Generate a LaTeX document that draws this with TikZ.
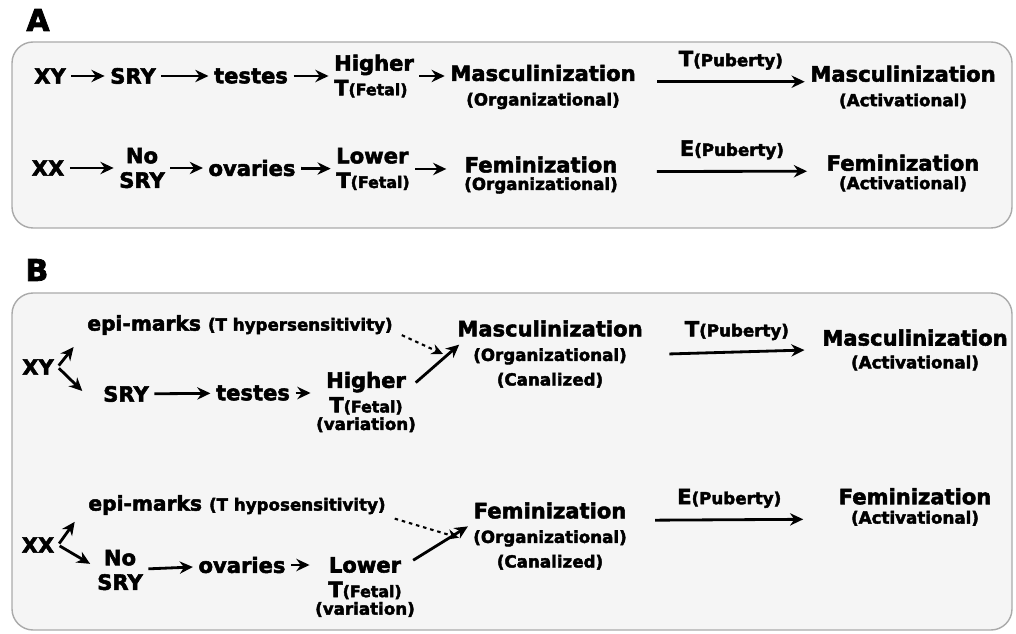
\documentclass[tikz,border=0pt]{standalone}
\usepackage{fontspec}
\setmainfont{DejaVu Sans}[BoldFeatures={FakeBold=2.5}]
\usepackage{tikz}
\usetikzlibrary{arrows,arrows.meta,shapes,positioning}
\usepackage{xcolor}
\definecolor{panelgray}{RGB}{245,245,245}
\definecolor{panelline}{RGB}{170,170,170}
\tikzstyle{arrow} = [line width=1.6pt,->,>={Stealth[length=7.5pt,width=7pt]},shorten <=1pt,shorten >=1pt]
\tikzstyle{dotarrow} = [line width=1.2pt,->,>={Stealth[length=6.5pt,width=6pt]},dash pattern=on 2pt off 2.2pt]
\tikzstyle{panel} = [draw=panelline, fill=panelgray, rounded corners=12pt, line width=0.8pt]
\newcommand{\mainf}{\fontsize{12}{14}\selectfont\bfseries}
\newcommand{\subf}{\fontsize{9.5}{11}\selectfont}
\newcommand{\fetf}{\fontsize{9}{10}\selectfont}

\begin{document}
\begin{tikzpicture}[x=0.02cm, y=-0.02cm, every node/.style={inner sep=2pt, font=\mainf}]
\useasboundingbox (0,0) rectangle (1016,634);

% Panels
\node[font=\fontsize{17}{17}\selectfont\bfseries] (labA) at (38,20) {A};
\draw[panel] (12,42) rectangle (1012,228);
\node[font=\fontsize{17}{17}\selectfont\bfseries] (labB) at (37,270) {B};
\draw[panel] (12,293) rectangle (1012,630);

% A: XY row
\node (xyA) at (50,76) {XY};
\node (sryA) at (133,76) {SRY};
\node (testesA) at (251,76) {testes};
\node[align=left] (hiA) at (374,76) {Higher\\T{\fetf(Fetal)}};
\node[align=center] (mascOA) at (543,87) {Masculinization\\{\subf(Organizational)}};
\node[align=center] (mascAA) at (903,87) {Masculinization\\{\subf(Activational)}};
\draw[arrow] (xyA) -- (sryA);
\draw[arrow] (sryA) -- (testesA);
\draw[arrow] (testesA) -- (hiA);
\draw[arrow] (hiA) -- (hiA -| mascOA.west);
\draw[arrow] ([xshift=9pt,yshift=3pt]mascOA.east) -- ([yshift=3pt]mascAA.west)
  node[midway, above=4pt] (tpA) {T{\subf(Puberty)}};

% A: XX row
\node (xxA) at (48,168) {XX};
\node[align=center] (nosryA) at (142,168) {No\\SRY};
\node (ovA) at (252,168) {ovaries};
\node[align=left] (loA) at (373,169) {Lower\\T{\fetf(Fetal)}};
\node[align=center] (femOA) at (541,175) {Feminization\\[-4pt]{\subf(Organizational)}};
\node[align=center] (femAA) at (903,173) {Feminization\\[-3.5pt]{\subf(Activational)}};
\draw[arrow] (xxA) -- (nosryA);
\draw[arrow] (nosryA) -- (ovA);
\draw[arrow] (ovA) -- (loA);
\draw[arrow, shorten >=8pt] (loA) -- (loA -| femOA.west);
\draw[arrow] ([xshift=19pt,yshift=2pt]femOA.east) -- ([xshift=-8pt,yshift=1pt]femAA.west)
  node[midway, above=4pt] (epA) {E{\subf(Puberty)}};

% B: XY branch
\node (xyB) at (38,367) {XY};
\node[font=\fontsize{11.5}{14}\selectfont\bfseries] (epiB) at (240,325) {epi-marks {\subf(T hypersensitivity)}};
\node (sryB) at (126,394) {SRY};
\node (testesB) at (253,393) {testes};
\node[align=center] (hiB) at (366,402) {Higher\\T{\fetf(Fetal)}\\[-4pt]{\subf(variation)}};
\node[align=center] (mascOB) at (550,354) {Masculinization\\{\subf(Organizational)}\\{\subf(Canalized)}};
\node[align=center] (mascAB) at (915,350) {Masculinization\\[-1pt]{\subf(Activational)}};
\draw[arrow] (xyB.east) -- ([xshift=-5pt,yshift=-4pt]epiB.south west);
\draw[arrow] (xyB.east) -- ([xshift=-9pt,yshift=1pt]sryB.west);
\draw[arrow] (sryB) -- (testesB);
\draw[arrow] (testesB) -- (testesB -| hiB.west);
\draw[dotarrow] ([xshift=3pt,yshift=2pt]epiB.south east) -- ([xshift=-6pt]mascOB.west);
\draw[arrow] ([xshift=-3pt,yshift=-9pt]hiB.north east) -- ([xshift=4pt,yshift=6pt]mascOB.west);
\draw[arrow] ([xshift=12pt]mascOB.east) -- ([xshift=-7pt]mascAB.west)
  node[midway, above=4pt] (tpB) {T{\subf(Puberty)}};

% B: XX branch
\node (xxB) at (38,545) {XX};
\node[font=\fontsize{11.5}{14}\selectfont\bfseries] (epi2B) at (237,505) {epi-marks {\subf(T hyposensitivity)}};
\node[align=center] (nosryB) at (120,570) {No\\SRY};
\node (ovB) at (242,565) {ovaries};
\node[align=center] (loB) at (365,587) {Lower\\T{\fetf(Fetal)}\\[-4pt]{\subf(variation)}};
\node[align=center] (femOB) at (550,536) {Feminization\\{\subf(Organizational)}\\{\subf(Canalized)}};
\node[align=center] (femAB) at (915,507) {Feminization\\[-3pt]{\subf(Activational)}};
\draw[arrow] (xxB.east) -- ([xshift=-5pt,yshift=-1pt]epi2B.south west);
\draw[arrow] (xxB.east) -- ([xshift=-1pt,yshift=3pt]nosryB.west);
\draw[arrow] (nosryB) -- (ovB);
\draw[arrow] (ovB) -- (ovB -| loB.west);
\draw[dotarrow] ([xshift=3pt]epi2B.south east) -- ([xshift=-6pt,yshift=-1pt]femOB.west);
\draw[arrow] ([xshift=-4pt,yshift=-4.5pt]loB.north east) -- ([yshift=6pt]femOB.west);
\draw[arrow] ([xshift=13pt,yshift=9pt]femOB.east) -- ([xshift=-17pt,yshift=-7pt]femAB.west)
  node[midway, above=4pt] (epB) {E{\subf(Puberty)}};
\end{tikzpicture}
\end{document}
